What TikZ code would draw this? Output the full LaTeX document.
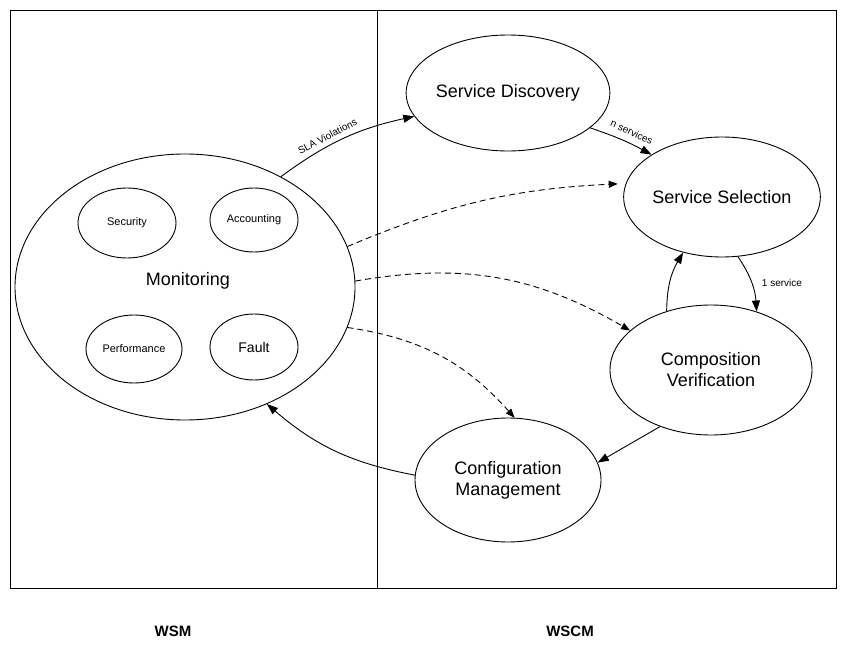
\documentclass[tikz,border=0pt]{standalone}
\usepackage{fontspec}
\setmainfont{Liberation Sans}
\usepackage{tikz}
\usetikzlibrary{arrows.meta, positioning, shapes.geometric}

\begin{document}
\begin{tikzpicture}[x=1pt, y=-1pt,
  proc/.style={ellipse, draw, line width=0.9pt, inner sep=0pt,
               font=\fontsize{18}{21}\selectfont, align=center},
  sub/.style={ellipse, draw, line width=0.9pt, inner sep=0pt,
              font=\fontsize{11}{13}\selectfont},
  arrow/.style={-{Triangle[length=11pt, width=8pt]}, line width=0.9pt},
  dasharrow/.style={-{Triangle[length=9pt, width=7pt]}, line width=0.9pt,
                    dash pattern=on 6pt off 4pt},
  lbl/.style={font=\fontsize{10}{12}\selectfont, inner sep=2pt}
]
\useasboundingbox (0,0) rectangle (847,645);

% frame and the two parts
\draw[line width=0.9pt] (10,10) rectangle (836,588);
\draw[line width=0.9pt] (377,10) -- (377,588);
\node[font=\fontsize{15}{18}\selectfont\bfseries] (wsm)  at (173,631) {WSM};
\node[font=\fontsize{15}{18}\selectfont\bfseries] (wscm) at (570,631) {WSCM};

% monitoring
\node[proc, minimum width=340pt, minimum height=266pt] (mon) at (185,287) {};
\node[font=\fontsize{18}{21}\selectfont] (montxt) at (188,281) {Monitoring};
\node[sub, minimum width=98pt, minimum height=70pt] (sec)   at (127,223) {Security};
\node[sub, minimum width=88pt, minimum height=64pt] (acc)   at (254,220) {Accounting};
\node[sub, minimum width=96pt, minimum height=68pt] (perf)  at (134,349) {Performance};
\node[sub, minimum width=88pt, minimum height=66pt, font=\fontsize{14}{16}\selectfont] (fault) at (254,347) {Fault};

% composition cycle
\node[proc, minimum width=194pt, minimum height=116pt] (disc)   at (508,93)  {Service Discovery};
\node[proc, minimum width=182pt, minimum height=120pt] (sel)    at (722,197) {Service Selection};
\node[proc, minimum width=202pt, minimum height=130pt] (verif)  at (711,370) {Composition\\Verification};
\node[proc, minimum width=186pt, minimum height=124pt] (config) at (508,480) {Configuration\\Management};

% solid flows
\draw[arrow] (mon.49) to[bend left=12]
  node[lbl, pos=0.4, sloped, above=3pt] {SLA Violations} (disc.194);
\draw[arrow] (disc.-23) to[bend left=5]
  node[lbl, pos=0.6, sloped, above=5pt] {n services} (sel.149);
\draw[arrow] (sel.-75) to[bend left=15]
  node[lbl, midway, right=8pt] {1 service} (verif.52);
\draw[arrow] (verif.127) to[bend left=15] (sel.235);
\draw[arrow] (verif.228) -- (config.11);
\draw[arrow] (config.177) to[bend left=15] (mon.-55);

% monitoring feedback
\draw[dasharrow, shorten >=8pt] (mon.14) to[bend left=10] (sel.172);
\draw[dasharrow] (mon.2) to[bend left=20] (verif.154);
\draw[dasharrow] (mon.-14) to[bend left=20] (config.84);
\end{tikzpicture}
\end{document}
